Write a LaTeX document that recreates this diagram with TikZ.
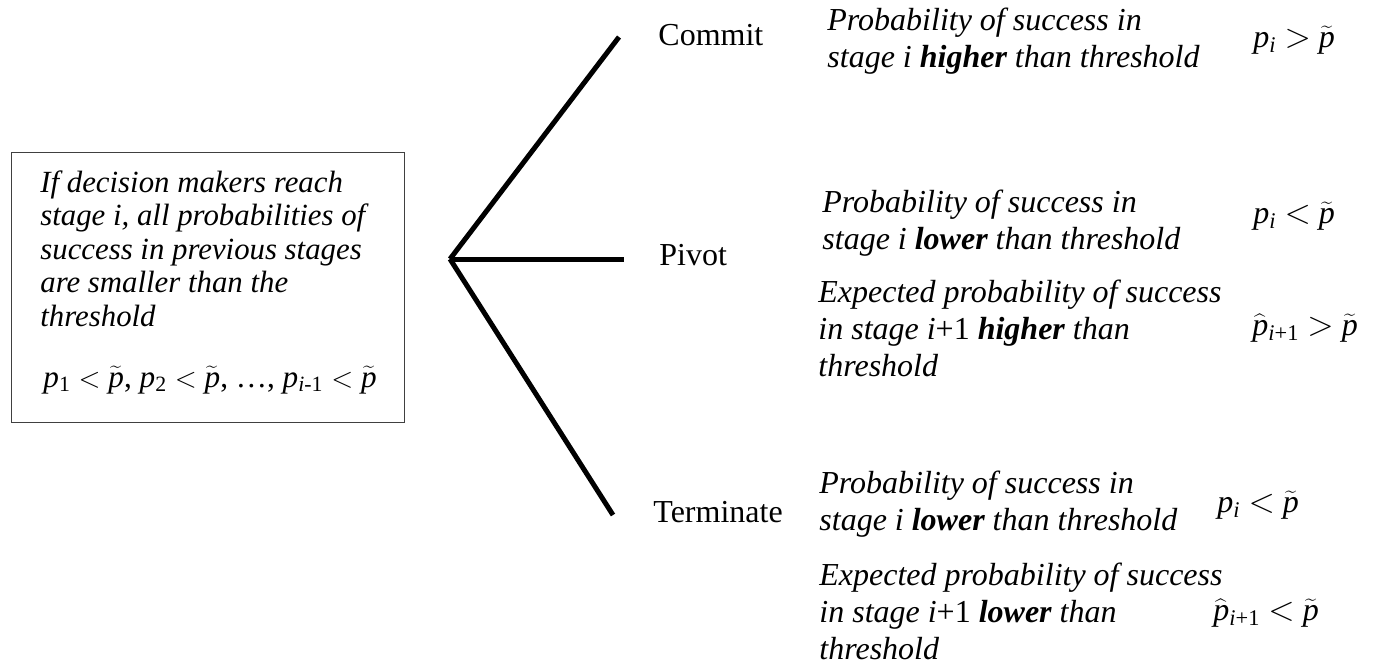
\documentclass[tikz,border=0pt]{standalone}
\usepackage{fontspec}
\usepackage{graphicx}
\setmainfont{Liberation Serif}
\newcommand{\pt}{$\widetilde{\mbox{\itshape p}}$}
\newcommand{\ph}{$\widehat{\mbox{\itshape p}}$}
\newcommand{\lt}{$<$}
\newcommand{\gt}{$>$}
\begin{document}
\begin{tikzpicture}[x=0.5pt,y=-0.5pt,
  blocktext/.style={anchor=north west,inner sep=0pt,align=left,font=\fontsize{16}{18.5}\selectfont\itshape},
  boxtext/.style={anchor=north west,inner sep=0pt,align=left,font=\fontsize{15.4}{16.75}\selectfont\itshape},
  choice/.style={anchor=base west,inner sep=0pt,font=\fontsize{16}{18.5}\selectfont},
  formula/.style={anchor=base west,inner sep=0pt,font=\fontsize{16}{18.5}\selectfont},
  branch/.style={line width=2.5pt},
  frame/.style={draw=black!75,line width=0.7pt,inner sep=0pt}]
\useasboundingbox (0,0) rectangle (1374,666);
% left box
\node[frame,anchor=north west,minimum width=196.5pt,minimum height=135pt] (box) at (11,152) {};
\node[boxtext] (boxt) at (40,168.5) {\strut If decision makers reach\\stage i, all probabilities of\\success in previous stages\\are smaller than the\\threshold};
\node[formula,font=\fontsize{15.6}{16.75}\selectfont] (boxm) at (43,387) {\textit{p}\textsubscript{1} \lt{} \pt, \textit{p}\textsubscript{2} \lt{} \pt, \dots, \textit{p}\textsubscript{\textit{i}-1} \lt{} \pt};
% branches
\coordinate (o) at (450,259);
\coordinate (c1) at (619,37);
\coordinate (c2) at (624,259);
\coordinate (c3) at (613,515);
\draw[branch] (o) -- (c1);
\draw[branch] (o) -- (c2);
\draw[branch] (o) -- (c3);
% choice labels
\node[choice] (commit) at (658,45) {Commit};
\node[choice] (pivot) at (659,265) {Pivot};
\node[choice] (term) at (653,522) {Terminate};
% descriptions
\node[blocktext] (d1) at (827,4) {\strut Probability of success in\\stage i \textbf{higher} than threshold};
\node[blocktext] (d2) at (822,186) {\strut Probability of success in\\stage i \textbf{lower} than threshold};
\node[blocktext] (d3) at (818,276) {\strut Expected probability of success\\in stage \textit{i}\textup{+1} \textbf{higher} than\\threshold};
\node[blocktext] (d4) at (819,467) {\strut Probability of success in\\stage i \textbf{lower} than threshold};
\node[blocktext] (d5) at (819,559) {\strut Expected probability of success\\in stage \textit{i}\textup{+1} \textbf{lower} than\\threshold};
% formulas
\node[formula] (f1) at (1253,47) {\textit{p}\textsubscript{\textit{i}} \gt{} \pt};
\node[formula] (f2) at (1253,223) {\textit{p}\textsubscript{\textit{i}} \lt{} \pt};
\node[formula] (f3) at (1252,335) {\ph\textsubscript{\textit{i}+1} \gt{} \pt};
\node[formula] (f4) at (1217,512) {\textit{p}\textsubscript{\textit{i}} \lt{} \pt};
\node[formula] (f5) at (1213,620) {\ph\textsubscript{\textit{i}+1} \lt{} \pt};
\end{tikzpicture}
\end{document}
